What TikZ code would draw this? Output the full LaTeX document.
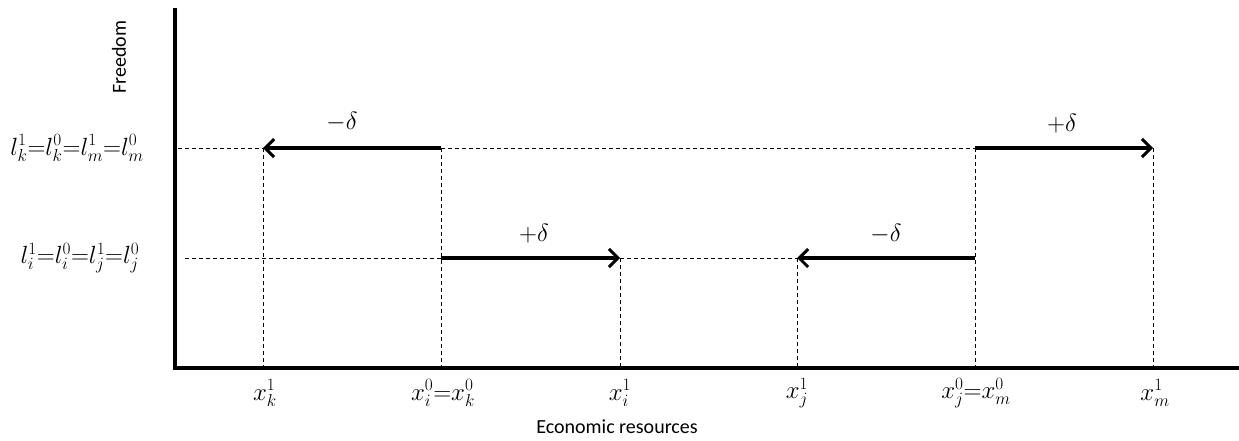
\documentclass[tikz,border=0pt]{standalone}
\usepackage{fontspec}
\setmainfont{Carlito}
\usetikzlibrary{arrows.meta}
\tikzset{
  axisline/.style={line width=3.5pt, line cap=rect},
  guide/.style={line width=0.8pt, dash pattern=on 4pt off 3pt},
  move/.style={line width=3.5pt, -{Straight Barb[length=9pt,width=18pt,line width=3pt]}},
  mlabel/.style={font=\fontsize{25}{30}\selectfont, inner sep=0pt},
  tlabel/.style={font=\fontsize{20}{24}\selectfont, inner sep=0pt}
}
\begin{document}
\begin{tikzpicture}[x=1pt,y=-1pt]
\useasboundingbox (0,0) rectangle (1239,440);
% axes
\coordinate (O) at (175,368);
\coordinate (ytop) at (175,10);
\coordinate (xend) at (1239,368);
\draw[axisline] (ytop) -- (O) -- (xend);
% reference points
\coordinate (ak) at (178,148);
\coordinate (ai) at (185,258);
\coordinate (k1) at (263,148);
\coordinate (k0) at (441,148);
\coordinate (m0) at (975,148);
\coordinate (m1) at (1153,148);
\coordinate (i0) at (441,258);
\coordinate (i1) at (620,258);
\coordinate (j1) at (797,258);
\coordinate (j0) at (975,258);
\coordinate (bk1) at (263,368);
\coordinate (bk0) at (441,368);
\coordinate (bi1) at (620,368);
\coordinate (bj1) at (797,368);
\coordinate (bm0) at (975,368);
\coordinate (bm1) at (1153,368);
% guides
\draw[guide] (ak) -- (k1);
\draw[guide] (k0) -- (m0);
\draw[guide] (ai) -- (i0);
\draw[guide] (i1) -- (j1);
\draw[guide] (k1) -- (bk1);
\draw[guide] (k0) -- (bk0);
\draw[guide] (i1) -- (bi1);
\draw[guide] (j1) -- (bj1);
\draw[guide] (m0) -- (bm0);
\draw[guide] (m1) -- (bm1);
% movements
\draw[move] (k0) -- (k1);
\draw[move] (m0) -- (m1);
\draw[move] (i0) -- (i1);
\draw[move] (j0) -- (j1);
\node[mlabel] (dk) at (342,122) {$-\delta$};
\node[mlabel] (dm) at (1062,124) {$+\delta$};
\node[mlabel] (di) at (534,234) {$+\delta$};
\node[mlabel] (dj) at (886,234) {$-\delta$};
% left labels
\node[mlabel] (lk) at (77,148) {$l_k^1{=}l_k^0{=}l_m^1{=}l_m^0$};
\node[mlabel] (li) at (80,258) {$l_i^1{=}l_i^0{=}l_j^1{=}l_j^0$};
% bottom labels
\node[mlabel] (xk1) at (265,393) {$x_k^1$};
\node[mlabel] (xi0) at (443,393) {$x_i^0{=}x_k^0$};
\node[mlabel] (xi1) at (620,393) {$x_i^1$};
\node[mlabel] (xj1) at (797,393) {$x_j^1$};
\node[mlabel] (xj0) at (976,393) {$x_j^0{=}x_m^0$};
\node[mlabel] (xm1) at (1155,393) {$x_m^1$};
% axis titles
\node[tlabel] (xt) at (617,427) {Economic resources};
\node[tlabel, rotate=90] (yt) at (119,57) {Freedom};
\end{tikzpicture}
\end{document}
